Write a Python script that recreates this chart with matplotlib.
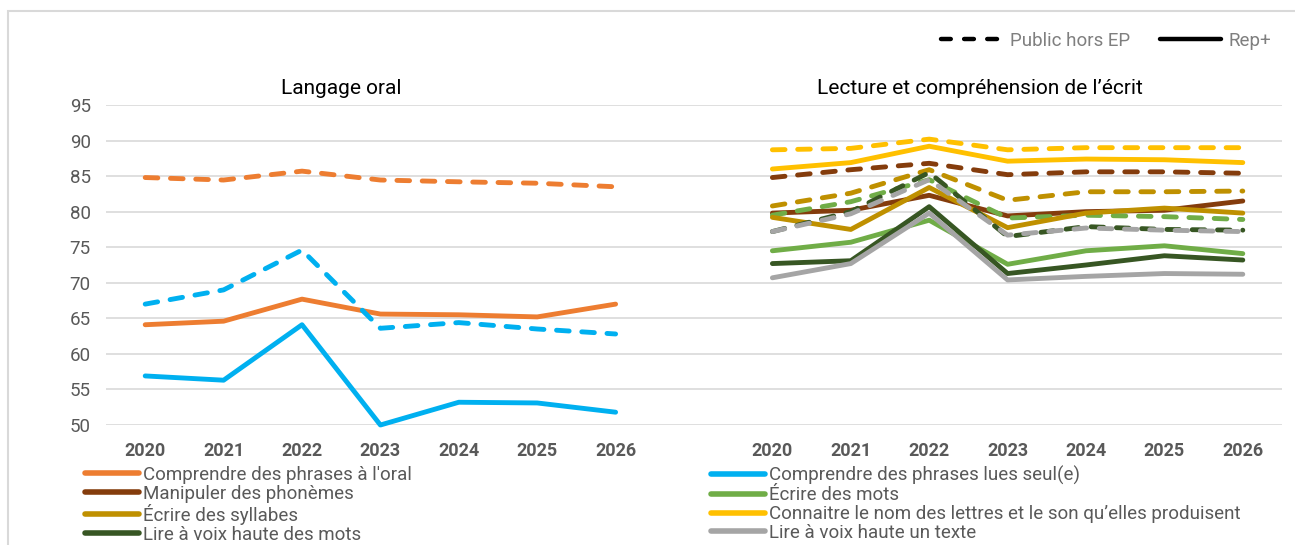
import matplotlib
matplotlib.use("Agg")
import matplotlib.pyplot as plt
from matplotlib.lines import Line2D
from matplotlib.patches import Rectangle

plt.rcParams['font.family'] = ['Roboto', 'DejaVu Sans']

years = ["2020", "2021", "2022", "2023", "2024", "2025", "2026"]

# Langage oral (left panel)
oral_public = [84.8, 84.45, 85.7, 84.45, 84.2, 84.0, 83.5]
oral_rep = [64.1, 64.6, 67.7, 65.6, 65.5, 65.2, 67.0]
lues_public = [67.0, 69.0, 74.6, 63.6, 64.4, 63.5, 62.8]
lues_rep = [56.9, 56.3, 64.1, 50.0, 53.2, 53.1, 51.8]

# Lecture et compréhension de l'écrit (right panel)
phon_public = [84.8, 85.9, 86.8, 85.2, 85.6, 85.6, 85.4]
phon_rep = [79.8, 80.2, 82.3, 79.4, 80.0, 80.2, 81.5]
mots_public = [79.5, 81.4, 84.5, 79.1, 79.5, 79.3, 78.9]
mots_rep = [74.5, 75.7, 78.8, 72.6, 74.5, 75.2, 74.1]
syll_public = [80.8, 82.6, 85.9, 81.6, 82.8, 82.8, 82.9]
syll_rep = [79.2, 77.5, 83.4, 77.75, 79.8, 80.5, 79.8]
lettres_public = [88.7, 88.9, 90.2, 88.7, 89.0, 89.0, 89.0]
lettres_rep = [86.0, 86.9, 89.2, 87.1, 87.4, 87.3, 86.9]
lmots_public = [77.2, 80.0, 85.5, 76.5, 77.9, 77.5, 77.4]
lmots_rep = [72.7, 73.1, 80.7, 71.3, 72.5, 73.8, 73.2]
texte_public = [77.2, 79.7, 84.5, 76.7, 77.7, 77.4, 77.2]
texte_rep = [70.7, 72.7, 79.8, 70.4, 70.9, 71.3, 71.2]

series = [
    ("Comprendre des phrases à l'oral", "#ED7D31", "left", oral_public, oral_rep),
    ("Comprendre des phrases lues seul(e)", "#00B0F0", "left", lues_public, lues_rep),
    ("Manipuler des phonèmes", "#843C0C", "right", phon_public, phon_rep),
    ("Écrire des mots", "#70AD47", "right", mots_public, mots_rep),
    ("Écrire des syllabes", "#BF9000", "right", syll_public, syll_rep),
    ("Connaitre le nom des lettres et le son qu’elles produisent", "#FFC000", "right", lettres_public, lettres_rep),
    ("Lire à voix haute des mots", "#375623", "right", lmots_public, lmots_rep),
    ("Lire à voix haute un texte", "#A5A5A5", "right", texte_public, texte_rep),
]

W, H = 1295, 545
fig = plt.figure(figsize=(W / 100, H / 100), dpi=100)

def fx(px):
    return px / W

def fy(py):
    return 1 - py / H

ax = fig.add_axes([fx(106), fy(425), fx(1282) - fx(106), fy(105) - fy(425)])

left_x = list(range(0, 7))
right_x = list(range(8, 15))

LW = 3.5
DASH = (2.6, 2.6)
for name, color, side, pub, rep in series:
    xs = left_x if side == "left" else right_x
    ax.plot(xs, rep, color=color, lw=LW, solid_capstyle='round',
            solid_joinstyle='round', clip_on=False, zorder=3)
    ax.plot(xs, pub, color=color, lw=LW, linestyle=(0, DASH),
            dash_capstyle='round', dash_joinstyle='round', clip_on=False, zorder=3)

ax.set_xlim(-0.5, 14.5)
ax.set_ylim(50, 95)
ax.set_yticks(range(50, 96, 5))
ax.set_xticks(left_x + right_x)
ax.set_xticklabels(years + years)
ax.grid(axis='y', color='#D9D9D9', lw=1.2, zorder=0)
ax.tick_params(axis='both', length=0)
ax.tick_params(axis='y', pad=11, labelsize=13.5, labelcolor='#595959')
ax.tick_params(axis='x', pad=12.5, labelsize=13, labelcolor='#595959')
for t in ax.get_xticklabels():
    t.set_fontweight('bold')
for s in ax.spines.values():
    s.set_visible(False)

# panel titles
fig.text(fx(341), fy(88), "Langage oral", ha='center', va='center',
         fontsize=15, color='#000000')
fig.text(fx(980), fy(88), "Lecture et compréhension de l’écrit", ha='center',
         va='center', fontsize=15, color='#000000')

# chart border
fig.patches.append(Rectangle((fx(8), fy(560)), fx(1310) - fx(8), fy(11) - fy(560),
                             transform=fig.transFigure, fill=False,
                             edgecolor='#D9D9D9', lw=1.5, zorder=0))

# top legend (line styles)
style_handles = [
    Line2D([], [], color='black', lw=3.2, linestyle=(0, (2.2, 3.0)), dash_capstyle='round'),
    Line2D([], [], color='black', lw=3.2, solid_capstyle='round'),
]
leg_top = fig.legend(style_handles, ["Public hors EP", "Rep+"], ncol=2,
                     loc='center left', bbox_to_anchor=(fx(941), fy(41)),
                     frameon=False, fontsize=13.5, handlelength=3.3,
                     handletextpad=0.4, columnspacing=1.55, borderpad=0,
                     borderaxespad=0)
for t in leg_top.get_texts():
    t.set_color('#7F7F7F')

# bottom legend (two columns, row-wise order)
def make_handle(c):
    return Line2D([], [], color=c, lw=4.0, solid_capstyle='round')

col1 = series[0::2]
col2 = series[1::2]
for col, x0 in ((col1, 85), (col2, 711)):
    lg = fig.legend([make_handle(c) for _, c, *_ in col], [n for n, *_ in col],
                    loc='upper left', bbox_to_anchor=(fx(x0), fy(466)),
                    frameon=False, fontsize=13.5, handlelength=2.9,
                    handletextpad=0.17, labelspacing=0.05, borderpad=0,
                    borderaxespad=0)
    for t in lg.get_texts():
        t.set_color('#595959')

fig.savefig("out.png", dpi=100)
